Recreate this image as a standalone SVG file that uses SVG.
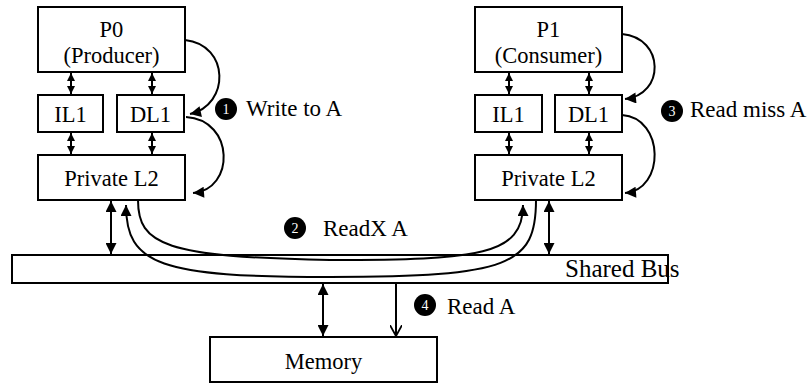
<svg xmlns="http://www.w3.org/2000/svg" width="809" height="387" viewBox="0 0 809 387">
<style>
.box{fill:#fff;stroke:#000;stroke-width:2}
.t{font-size:22.5px;fill:#000;text-anchor:middle}
.l{font-size:23px;fill:#000}
.n{font-size:14px;fill:#fff;text-anchor:middle}
.c{fill:none;stroke:#000;stroke-width:2}
.a{fill:none;stroke:#000;stroke-width:2;marker-start:url(#ah);marker-end:url(#ah)}
.s{fill:none;stroke:#000;stroke-width:2;marker-start:url(#sh);marker-end:url(#sh)}
</style>
<defs>
<marker id="ah" viewBox="0 0 10 10" refX="10" refY="5" markerWidth="6" markerHeight="5.5" orient="auto-start-reverse" markerUnits="strokeWidth">
<path d="M0,0 L10,5 L0,10 z" fill="#000"/>
</marker>
<marker id="sh" viewBox="0 0 10 10" refX="10" refY="5" markerWidth="4" markerHeight="4.8" orient="auto-start-reverse" markerUnits="strokeWidth">
<path d="M0,0 L10,5 L0,10 z" fill="#000"/>
</marker>
<marker id="ov" viewBox="0 0 10 10" refX="9" refY="5" markerWidth="6" markerHeight="6" orient="auto" markerUnits="strokeWidth">
<path d="M0,0 L9,5 L0,10" fill="none" stroke="#000" stroke-width="1.5"/>
</marker>
</defs>

<g font-family="Liberation Serif, Times New Roman, DejaVu Serif, serif">
<g id="bus"><rect class="box" x="12" y="255" width="656" height="28"/></g>

<g id="p0"><rect class="box" x="38" y="7" width="147" height="65"/><text class="t" x="111.5" y="37">P0</text><text class="t" x="111.5" y="63">(Producer)</text></g>
<g id="il1-0"><rect class="box" x="38" y="95" width="65" height="37"/><text class="t" x="70.5" y="122">IL1</text></g>
<g id="dl1-0"><rect class="box" x="117" y="95" width="67" height="37"/><text class="t" x="150.5" y="122">DL1</text></g>
<g id="l2-0"><rect class="box" x="38" y="155" width="147" height="45"/><text class="t" x="111.5" y="186">Private L2</text></g>

<g id="p1"><rect class="box" x="475" y="7" width="147" height="65"/><text class="t" x="548.5" y="37">P1</text><text class="t" x="548.5" y="63">(Consumer)</text></g>
<g id="il1-1"><rect class="box" x="475" y="95" width="67" height="37"/><text class="t" x="508.5" y="122">IL1</text></g>
<g id="dl1-1"><rect class="box" x="555" y="95" width="67" height="37"/><text class="t" x="588.5" y="122">DL1</text></g>
<g id="l2-1"><rect class="box" x="475" y="155" width="147" height="45"/><text class="t" x="548.5" y="186">Private L2</text></g>

<g id="memory"><rect class="box" x="210" y="337" width="227" height="45"/><text class="t" x="323.5" y="369">Memory</text></g>

<g id="connectors">
<line class="s" x1="71" y1="73" x2="71" y2="94"/>
<line class="s" x1="152" y1="73" x2="152" y2="94"/>
<line class="s" x1="71" y1="133" x2="71" y2="154"/>
<line class="s" x1="152" y1="133" x2="152" y2="154"/>
<line class="s" x1="509" y1="73" x2="509" y2="94"/>
<line class="s" x1="589" y1="73" x2="589" y2="94"/>
<line class="s" x1="509" y1="133" x2="509" y2="154"/>
<line class="s" x1="589" y1="133" x2="589" y2="154"/>
<line class="a" x1="111" y1="201" x2="111" y2="254"/>
<line class="a" x1="549" y1="201" x2="549" y2="254"/>
<line class="a" x1="323" y1="284" x2="323" y2="336"/>
<line class="c" x1="396" y1="283" x2="396" y2="336" marker-end="url(#ov)"/>
<path class="c" d="M138,200 C138,245 165,257 330,260 C480,260 523,255 523,205" marker-end="url(#ah)"/>
<path class="c" d="M536,200 C536,265 510,277 330,277 C160,277 126,265 126,205" marker-end="url(#ah)"/>
<path class="c" d="M185,40 C230,45 230,105 190,114" marker-end="url(#ah)"/>
<path class="c" d="M186,117 C235,120 235,190 193,193" marker-end="url(#ah)"/>
<path class="c" d="M622,34 C665,38 665,95 625,99" marker-end="url(#ah)"/>
<path class="c" d="M622,115 C665,118 665,190 625,193" marker-end="url(#ah)"/>
</g>

<g id="label1"><circle cx="226" cy="109" r="11"/><text class="n" x="226" y="114">1</text><text class="l" x="246" y="116">Write to A</text></g>
<g id="label2"><circle cx="295" cy="228" r="11"/><text class="n" x="295" y="233">2</text><text class="l" x="323" y="236">ReadX A</text></g>
<g id="label3"><circle cx="672" cy="111" r="11"/><text class="n" x="672" y="116">3</text><text class="l" x="690" y="117">Read miss A</text></g>
<g id="label4"><circle cx="425" cy="305" r="11"/><text class="n" x="425" y="310">4</text><text class="l" x="447" y="314">Read A</text></g>
<g id="buslabel"><text class="l" x="565" y="277" style="font-size:25px">Shared Bus</text></g>
</g>
</svg>
